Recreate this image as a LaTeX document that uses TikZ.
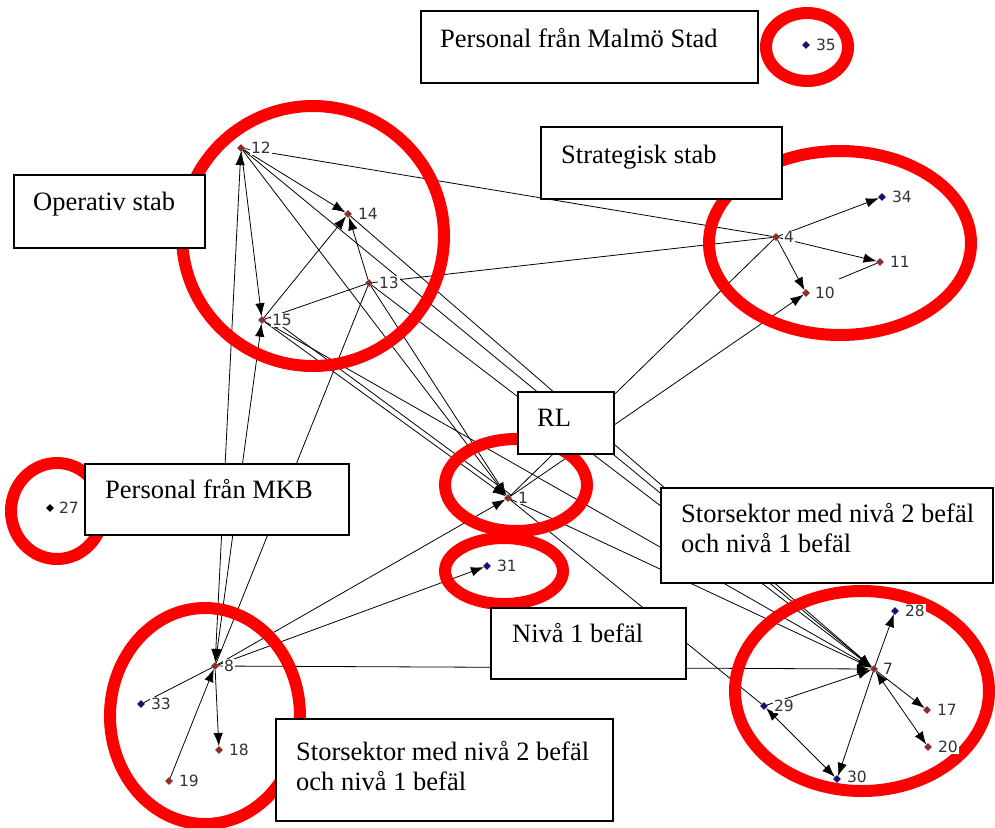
\documentclass[tikz,border=0pt]{standalone}
\usepackage{fontspec}
\setmainfont{Liberation Serif}
\newfontfamily\labfont{DejaVu Sans}
\usetikzlibrary{shapes.geometric,arrows.meta}

\definecolor{vred}{RGB}{140,45,45}
\definecolor{vblue}{RGB}{20,20,110}
\definecolor{ringred}{RGB}{255,0,0}

\tikzset{
  vtx/.style={diamond, inner sep=0pt, minimum size=8pt, fill=#1},
  num/.style={anchor=west, inner sep=0.8pt, fill=white, text=black!80,
              font=\labfont\fontsize{15.5}{16}\selectfont},
  tie/.style={line width=0.8pt, black},
  arr/.style={tie, -{Latex[length=13pt,width=9.5pt]}},
  biarr/.style={tie, {Latex[length=13pt,width=9.5pt]}-{Latex[length=13pt,width=9.5pt]}},
  ring/.style={draw=ringred, line width=12pt},
  groupbox/.style={draw=black, line width=1.5pt, fill=white, inner sep=0pt, anchor=north west},
  boxtext/.style={anchor=base west, inner sep=0pt, font=\fontsize{26.5}{30}\selectfont},
}

\begin{document}
\begin{tikzpicture}[x=1pt, y=-1pt]
\useasboundingbox[fill=white] (0,0) rectangle (995,827);

% actors
\node[vtx=vred]  (n12) at (241,148) {};
\node[vtx=vred]  (n14) at (348,214) {};
\node[vtx=vred]  (n13) at (369,283) {};
\node[vtx=vred]  (n15) at (262,320) {};
\node[vtx=vred]  (n4)  at (776,237) {};
\node[vtx=vblue] (n34) at (882,197) {};
\node[vtx=vred]  (n11) at (880,262) {};
\node[vtx=vred]  (n10) at (806,293) {};
\node[vtx=vred]  (n1)  at (508,498) {};
\node[vtx=vblue] (n31) at (487,566) {};
\node[vtx=vred]  (n7)  at (874,669) {};
\node[vtx=vblue] (n28) at (895,611) {};
\node[vtx=vblue] (n29) at (764,706) {};
\node[vtx=vred]  (n17) at (927,710) {};
\node[vtx=vred]  (n20) at (928,747) {};
\node[vtx=vblue] (n30) at (837,779) {};
\node[vtx=vred]  (n8)  at (215,666) {};
\node[vtx=vblue] (n33) at (141,704) {};
\node[vtx=vred]  (n18) at (219,750) {};
\node[vtx=vred]  (n19) at (169,781) {};
\node[vtx=black] (n27) at (50,508) {};
\node[vtx=vblue] (n35) at (806,45) {};
\coordinate (c11) at (839,279);

% ties
\draw[tie] (n12) -- (n4);
\draw[tie] (n13) -- (n4);
\draw[arr] (n12) -- (n14);
\draw[arr] (n13) -- (n14);
\draw[arr] (n15) -- (n14);
\draw[arr] (n12) -- (n15);
\draw[tie] (n13) -- (n15);
\draw[biarr] (n8) -- (n12);
\draw[biarr] (n8) -- (n15);
\draw[tie] (n8) -- (n13);
\draw[arr] (n12) -- (n1);
\draw[arr] (n13) -- (n1);
\draw[arr] (n15) -- (n1);
\draw[arr] ([shift={(3,-3)}]n1.center) -- ([shift={(3,-3)}]n15.east);
\draw[arr] (n12) -- (n7);
\draw[arr] (n13) -- (n7);
\draw[arr] (n14) -- (n7);
\draw[arr] (n15) -- (n7);
\draw[arr] (n1) -- (n7);
\draw[arr] (n8) -- (n7);
\draw[arr] (n29) -- (n7);
\draw[arr] (n8) -- (n1);
\draw[arr] (n8) -- (n31);
\draw[tie] (n1) -- (n4);
\draw[arr] (n1) -- (n10);
\draw[arr] (n4) -- (n34);
\draw[arr] (n4) -- (n11);
\draw[arr] (n4) -- (n10);
\draw[tie] (n11) -- (c11);
\draw[arr] (n7) -- (n28);
\draw[arr] (n7) -- (n30);
\draw[arr] (n7) -- (n17);
\draw[biarr] (n7) -- (n20);
\draw[biarr] (n29) -- (n30);
\draw[tie] (n1) -- (n29);
\draw[tie] (n33) -- (n8);
\draw[arr] (n19) -- (n8);
\draw[arr] (n8) -- (n18);

% groupings
\draw[ring] (807,47)  ellipse [x radius=41pt,  y radius=34pt];
\draw[ring] (313,236) ellipse [x radius=131pt, y radius=130pt];
\draw[ring] (840,243) ellipse [x radius=131pt, y radius=92pt];
\draw[ring] (57,511)  ellipse [x radius=46pt,  y radius=48pt];
\draw[ring] (516,485) ellipse [x radius=71pt,  y radius=46pt];
\draw[ring] (504,571) ellipse [x radius=59pt,  y radius=33pt];
\draw[ring] (205,716) ellipse [x radius=95pt,  y radius=108pt];
\draw[ring] (862,691) ellipse [x radius=127pt, y radius=100pt];

% actor numbers
\node[num] (l12) at (250,148) {12};
\node[num] (l14) at (357,214) {14};
\node[num] (l13) at (378,283) {13};
\node[num] (l15) at (271,320) {15};
\node[num] (l4)  at (783,237) {4};
\node[num] (l34) at (891,197) {34};
\node[num] (l11) at (889,262) {11};
\node[num] (l10) at (814,293) {10};
\node[num] (l1)  at (517,498) {1};
\node[num] (l31) at (496,566) {31};
\node[num] (l7)  at (882,669) {7};
\node[num] (l28) at (904,611) {28};
\node[num] (l29) at (773,706) {29};
\node[num] (l17) at (936,710) {17};
\node[num] (l20) at (937,747) {20};
\node[num] (l30) at (846,777) {30};
\node[num] (l8)  at (223,666) {8};
\node[num] (l33) at (150,704) {33};
\node[num] (l18) at (228,750) {18};
\node[num] (l19) at (178,781) {19};
\node[num] (l27) at (58,508) {27};
\node[num] (l35) at (815,45) {35};

% group captions
\node[groupbox, minimum width=337pt, minimum height=72pt] (bMalmo) at (420,10) {};
\node[boxtext] (tMalmo) at (440,47) {Personal från Malmö Stad};

\node[groupbox, minimum width=191pt, minimum height=73pt] (bOp) at (13,174) {};
\node[boxtext] (tOp) at (33,210) {Operativ stab};

\node[groupbox, minimum width=241pt, minimum height=72pt] (bStrat) at (540,126) {};
\node[boxtext] (tStrat) at (561,163) {Strategisk stab};

\node[groupbox, minimum width=96pt, minimum height=62pt] (bRL) at (517,391) {};
\node[boxtext] (tRL) at (537,426) {RL};

\node[groupbox, minimum width=264pt, minimum height=71pt] (bMKB) at (84,463) {};
\node[boxtext] (tMKB) at (105,498) {Personal från MKB};

\node[groupbox, minimum width=332pt, minimum height=95pt] (bSS1) at (660,487) {};
\node[boxtext] (tSS1a) at (681,522) {Storsektor med nivå 2 befäl};
\node[boxtext] (tSS1b) at (681,552) {och nivå 1 befäl};

\node[groupbox, minimum width=195pt, minimum height=71pt] (bN1) at (490,607) {};
\node[boxtext] (tN1) at (512,642) {Nivå 1 befäl};

\node[groupbox, minimum width=337pt, minimum height=102pt] (bSS2) at (275,718) {};
\node[boxtext] (tSS2a) at (296,760) {Storsektor med nivå 2 befäl};
\node[boxtext] (tSS2b) at (296,790) {och nivå 1 befäl};
\end{tikzpicture}
\end{document}
